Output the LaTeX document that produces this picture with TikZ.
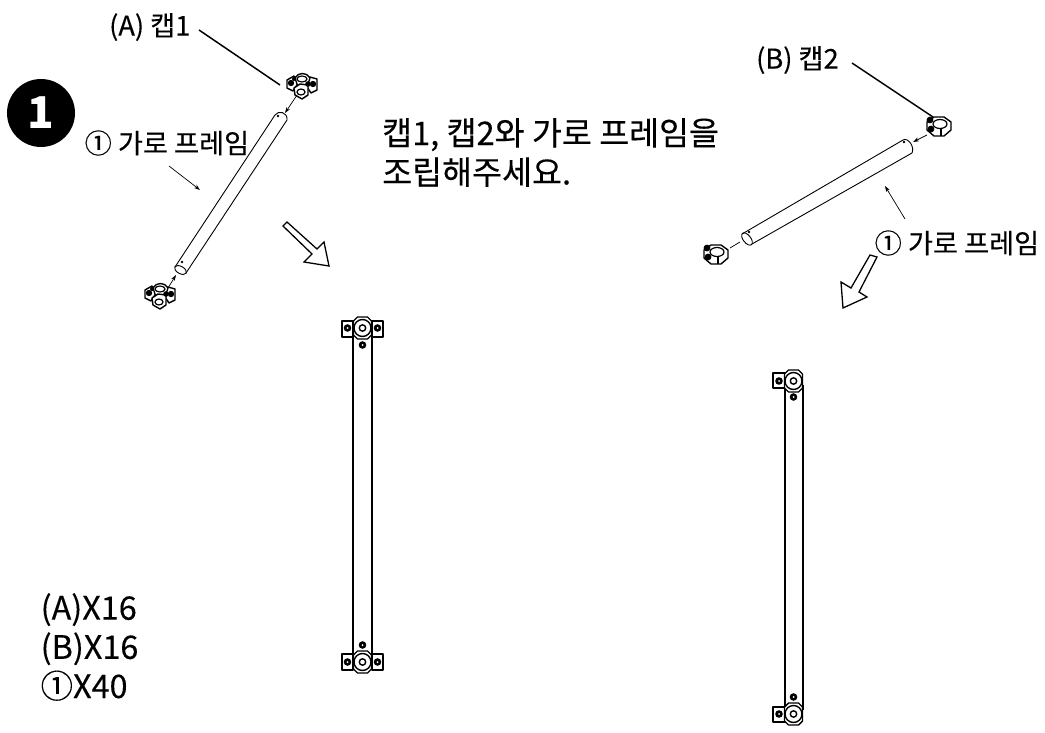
\documentclass[tikz,border=0pt]{standalone}
\usepackage{fontspec}
\setmainfont{Noto Sans CJK KR}
\newfontfamily\medfont[FakeBold=0.25]{Noto Sans CJK KR}
\usetikzlibrary{positioning,arrows.meta}
\newcommand{\labelfont}{\medfont\fontsize{27.3}{32}\selectfont}
\newcommand{\titlefont}{\medfont\fontsize{32.7}{39.5}\selectfont}
\tikzset{
    pipeline/.style={draw=black,line width=0.9pt},
    railline/.style={draw=black,line width=1.2pt},
    leader/.style={draw=black,line width=1.5pt},
    pointer/.style={draw=black,line width=0.7pt,-{Stealth[length=6pt,width=4pt]}},
    bigarrow/.style={draw=black,fill=white,line width=1.3pt,line join=miter},
    partline/.style={draw=black,fill=white,line width=1.4pt,line join=round},
    partlabel/.style={inner sep=0pt,text=black,font=\labelfont},
    % cap seen from the front
    frontcap/.pic={
        \path[partline] (-5,-11) -- (5,-11) -- (9,-7) -- (9,7) -- (5,11) -- (-5,11) -- (-9,7) -- (-9,-7) -- cycle;
        \draw[line width=1.4pt] (0,0) circle (8.5);
        \draw[line width=1.4pt] (0,0) circle (3.2);
    },
    % cap (A) seen from above
    capone/.pic={
        \path[partline] (-15,-7) -- (-8,-11) -- (-3,-5) -- (-9,4) -- (-15,1) -- cycle;
        \path[partline] (15,-8) -- (8,-10) -- (3,-3) -- (9,6) -- (15,3) -- cycle;
        \path[partline] (-7,-9) .. controls (-4,-15) and (5,-15) .. (8,-9) -- (5,0) -- (-4,0) -- cycle;
        \draw[line width=1.2pt] (0,-8) ellipse (5 and 3);
        \path[partline] (-8,1) -- (-2,-3) -- (6,-2) -- (6,8) -- (0,12) -- (-7,8) -- cycle;
        \fill (-11,-4) circle (3.2);
        \fill (11,-3) circle (3.2);
        \fill (6,-3) circle (2.8);
        \fill (-8,-8) circle (2);
        \draw[line width=1.2pt] (-1,5) ellipse (4 and 3);
    },
    % cap (B) seen from above
    captwo/.pic={
        \path[partline] (-5,-9) -- (5,-9) -- (12,-4) -- (12,4) -- (5,10) -- (-5,10) -- (-12,4) -- (-12,-4) -- cycle;
        \draw[line width=1.2pt] (1,-2) ellipse (7 and 4.5);
        \fill (-9,-6) circle (3.4);
        \fill (-8,3) circle (3.4);
        \draw[line width=1.1pt] (2,3) -- (2,10);
    }
}
\begin{document}
\begin{tikzpicture}[x=1bp,y=-1bp]
    \useasboundingbox (0,0) rectangle (1045,733);

    % STEP NUMBER
    \node[circle,fill=black,minimum size=68bp,inner sep=0pt,text=white,font=\fontsize{44}{44}\selectfont\bfseries] (stepone) at (41,113) {1};

    % TEXTS
    \node[partlabel,anchor=west] (capAlabel) at (109,27) {(A) 캡1};
    \node[partlabel,anchor=west] (railAlabel) at (84.5,143) {① 가로 프레임};
    \node[partlabel,anchor=west] (capBlabel) at (756,60) {(B) 캡2};
    \node[partlabel,anchor=west] (railBlabel) at (874.5,243) {① 가로 프레임};
    \node[anchor=west,align=left,inner sep=0pt,font=\titlefont] (title) at (382,152.5) {캡1, 캡2와 가로 프레임을\\조립해주세요.};
    \node[anchor=west,align=left,inner sep=0pt,font=\medfont\fontsize{32.5}{39.3}\selectfont] (parts) at (40.5,647) {(A)X16\\(B)X16\\①X40};

    % LEFT RAIL
    \draw[pipeline] (275,115) -- (175,267);
    \draw[pipeline] (287,120) -- (186,273);
    \draw[pipeline] (180.5,270) ellipse[x radius=6.5,y radius=3.6,rotate=-29];
    \draw[pipeline] (275,115) .. controls (278,110) and (288,112) .. (287,120);
    \fill (278,116) circle (1.4);
    \fill (182,262) circle (1.4);
    \pic at (302,87) {capone};
    \pic at (160,297) {capone};
    \coordinate (capAtip) at (280,85);
    \coordinate (railAtip) at (200,190);
    \coordinate (railAtail) at (169,166);
    \draw[leader] (199,30) -- (capAtip);
    \draw[pointer] (railAtail) -- (railAtip);
    \draw[pointer] (297,95) -- (285,113);
    \draw[pointer] (168,288) -- (176,275);

    % RIGHT RAIL
    \draw[pipeline] (903,140) -- (742,234);
    \draw[pipeline] (912,153) -- (752,244);
    \draw[pipeline] (747,239) ellipse[x radius=7.2,y radius=3.8,rotate=-52];
    \draw[pipeline] (903,140) .. controls (908,137) and (915,147) .. (912,153);
    \fill (904,142) circle (1.3);
    \fill (749,232) circle (1.3);
    \pic at (939,126) {captwo};
    \pic at (716,254) {captwo};
    \coordinate (capBtip) at (933,117);
    \coordinate (railBtip) at (885,186);
    \coordinate (railBtail) at (905,219);
    \draw[leader] (852,63) -- (capBtip);
    \draw[pointer] (railBtail) -- (railBtip);
    \draw[pointer] (927,135) -- (913,142);
    \draw[pipeline,line width=0.7pt] (740,242) -- (730,248);

    % BIG ARROWS
    \draw[bigarrow] (283,226) -- (287,222) -- (317,249) -- (324,242) -- (329,266) -- (304,262) -- (312,254) -- cycle;
    \draw[bigarrow] (870,255) -- (877,257) -- (859,292) -- (867,297) -- (843,308) -- (841,282) -- (851,288) -- cycle;

    % FRAME A
    \draw[railline] (353,330) -- (353,660);
    \draw[railline] (372,330) -- (372,660);
    \foreach \y/\top/\bot in {328/321/337,662/654/670} {
        \path[partline] (342,\top) rectangle (353,\bot);
        \path[partline] (372,\top) rectangle (383,\bot);
        \fill (347.5,\y) circle (3.8);
        \fill (377.5,\y) circle (3.8);
        \fill[white] (347.5,\y) circle (1);
        \fill[white] (377.5,\y) circle (1);
    }
    \pic at (362.5,328) {frontcap};
    \pic at (362.5,662) {frontcap};
    \foreach \y in {345,645} {
        \fill (362.5,\y) circle (3.8);
        \fill[white] (362.5,\y) circle (1);
    }

    % FRAME B
    \draw[railline] (785,385) -- (785,710);
    \draw[railline] (803,385) -- (803,710);
    \foreach \y/\top/\bot in {381/373/388,714/707/722} {
        \path[partline] (773,\top) rectangle (785,\bot);
        \fill (779,\y) circle (3.8);
        \fill[white] (779,\y) circle (1);
    }
    \pic at (793.5,381) {frontcap};
    \pic at (793.5,714) {frontcap};
    \foreach \y in {397,697} {
        \fill (793.5,\y) circle (3.8);
        \fill[white] (793.5,\y) circle (1);
    }
\end{tikzpicture}
\end{document}
